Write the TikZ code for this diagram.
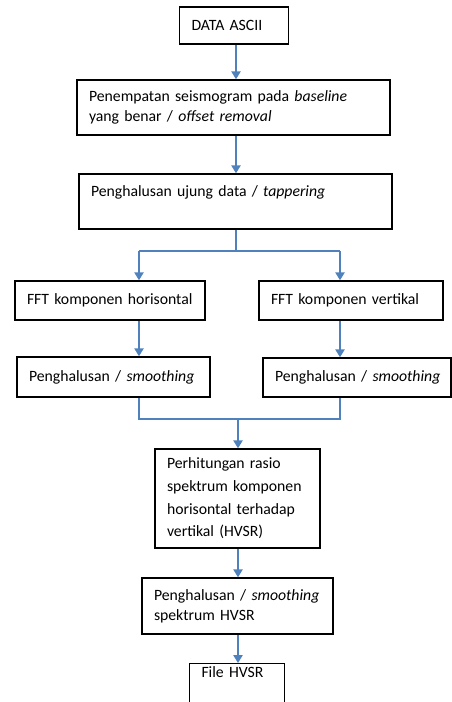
\documentclass[tikz,border=0pt]{standalone}
\usepackage{fontspec}
\setmainfont{Carlito}
\usetikzlibrary{arrows.meta}
\definecolor{flowblue}{RGB}{79,129,189}

\begin{document}
\begin{tikzpicture}[x=0.75pt,y=-0.75pt,
    box/.style={draw, line width=1.1pt, align=left, inner xsep=9pt,
                font=\fontsize{11.8}{15}\selectfont},
    arr/.style={draw=flowblue, line width=1.2pt, -{Triangle[length=6pt,width=7pt]}},
    link/.style={draw=flowblue, line width=0.8pt}]
  \useasboundingbox (0,0) rectangle (452,702);
  % main column
  \node[box, text width=63.75pt, minimum height=27.75pt] (ascii) at (234,25.5) {DATA ASCII};
  \node[box, text width=216.75pt, minimum height=41.25pt] (base) at (233.5,107.5)
       {Penempatan seismogram pada \textit{baseline}\\ yang benar / \textit{offset removal}};
  \node[box, text width=216.75pt, minimum height=41.25pt] (taper) at (235.5,201.5)
       {Penghalusan ujung data / \textit{tappering}\\ \mbox{}};
  % two branches
  \node[box, text width=124.5pt, minimum height=29.25pt] (ffth) at (110,300.5) {\mbox{FFT komponen horisontal}};
  \node[box, text width=120pt, minimum height=29.25pt] (fftv) at (351,300.5) {\mbox{FFT komponen vertikal}};
  \node[box, text width=126.75pt, minimum height=30pt] (smh) at (113.5,377) {\mbox{Penghalusan / \textit{smoothing}}};
  \node[box, text width=123pt, minimum height=29.25pt] (smv) at (357,377.5) {\mbox{Penghalusan / \textit{smoothing}}};
  % ratio and output
  \node[box, text width=105.75pt, minimum height=74.25pt,
        font=\fontsize{11.8}{17}\selectfont] (ratio) at (237.5,498.5)
       {Perhitungan rasio\\ spektrum komponen\\ horisontal terhadap\\ vertikal (HVSR)};
  \node[box, text width=125.25pt, minimum height=42pt] (smhv) at (237.5,606)
       {Penghalusan / \textit{smoothing}\\ spektrum HVSR};
  \node[box, text width=53.25pt, anchor=north, inner ysep=3pt, text height=7pt, text depth=30pt]
       (file) at (237,663) {File HVSR};

  \coordinate (mid) at (236,0);
  \coordinate (split) at (236,251);
  \coordinate (leftcol) at (139,0);
  \coordinate (rightcol) at (340,0);
  \coordinate (join) at (238,419);

  \draw[arr] (ascii.south -| mid) -- (base.north -| mid);
  \draw[arr] (base.south -| mid) -- (taper.north -| mid);
  \draw[link] (taper.south -| mid) -- (split);
  \draw[link] (split -| leftcol) -- (split -| rightcol);
  \draw[arr] (split -| leftcol) -- (ffth.north -| leftcol);
  \draw[arr] (split -| rightcol) -- (fftv.north -| rightcol);
  \draw[arr] (ffth.south -| leftcol) -- (smh.north -| leftcol);
  \draw[arr] (fftv.south -| rightcol) -- (smv.north -| rightcol);
  \draw[link] (smh.south -| leftcol) -- (join -| leftcol) -- (join -| rightcol) -- (smv.south -| rightcol);
  \draw[arr] (join) -- (ratio.north -| join);
  \draw[arr] (ratio.south -| join) -- (smhv.north -| join);
  \draw[arr] (smhv.south -| join) -- (file.north -| join);
\end{tikzpicture}
\end{document}
